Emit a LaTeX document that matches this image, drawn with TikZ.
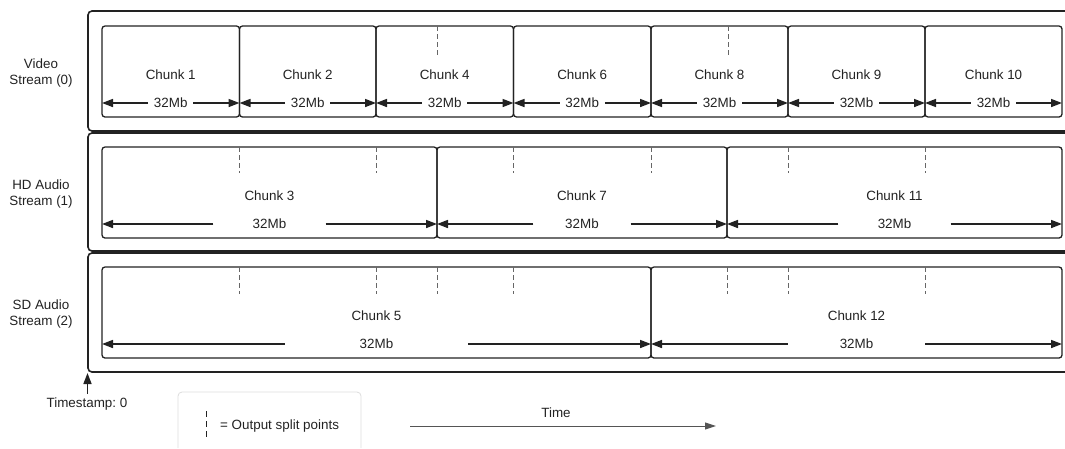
\documentclass[tikz,border=0pt]{standalone}
\usepackage{fontspec}
\setmainfont{Liberation Sans}
\usetikzlibrary{arrows.meta}
\frenchspacing
\definecolor{ink}{HTML}{222222}
\definecolor{splitgray}{HTML}{666666}
\definecolor{legendgray}{HTML}{DDDDDD}
\definecolor{timegray}{HTML}{555555}
\tikzset{
  txt/.style={text=ink, font=\fontsize{13.4}{16}\selectfont, inner sep=0pt, align=center},
  chunkbox/.style={draw=ink, line width=1.3pt, rounded corners=3pt, inner sep=0pt, outer sep=0pt},
  outerbox/.style={draw=ink, line width=1.6pt, rounded corners=4pt},
  dim/.style={draw=ink, line width=1.6pt, -{Triangle[length=11pt,width=8pt]}},
  split/.style={draw=splitgray, line width=0.9pt, dash pattern=on 5pt off 3pt},
}
\newcommand{\mkchunk}[6]{%
  \node[chunkbox, minimum width={#3-#2}, minimum height=91] (#1) at ({(#2+#3)/2},{#4+45.5}) {};
  \node[txt] (#1t) at ({(#2+#3)/2},{#4+49}) {#5};
  \node[txt, minimum width=#6] (#1m) at ({(#2+#3)/2},{#4+77}) {32Mb};
  \draw[dim] (#1m.west) -- (#1.west |- #1m.west);
  \draw[dim] (#1m.east) -- (#1.east |- #1m.east);
}
\begin{document}
\begin{tikzpicture}[x=1pt,y=-1pt]
\useasboundingbox (0,0) rectangle (1065,448);
% outer stream boxes
\draw[outerbox] (1065,11) -- (88,11) -- (88,131) -- (1065,131);
\draw[outerbox] (1065,133) -- (88,133) -- (88,251) -- (1065,251);
\draw[outerbox] (1065,253) -- (88,253) -- (88,372) -- (1065,372);
% stream labels
\node[txt] (lv) at (41,73) {Video\\Stream (0)};
\node[txt] (lh) at (41,194) {HD Audio\\Stream (1)};
\node[txt] (ls) at (41,314) {SD Audio\\Stream (2)};
% video chunks
\mkchunk{c1}{102}{239.5}{26}{Chunk 1}{45}
\mkchunk{c2}{239.5}{376}{26}{Chunk 2}{45}
\mkchunk{c4}{376}{513.5}{26}{Chunk 4}{45}
\mkchunk{c6}{513.5}{651}{26}{Chunk 6}{45}
\mkchunk{c8}{651}{788}{26}{Chunk 8}{45}
\mkchunk{c9}{788}{925}{26}{Chunk 9}{45}
\mkchunk{c10}{925}{1062}{26}{Chunk 10}{45}
% HD chunks
\mkchunk{c3}{102}{437}{147}{Chunk 3}{112}
\mkchunk{c7}{437}{727}{147}{Chunk 7}{97}
\mkchunk{c11}{727}{1062}{147}{Chunk 11}{112}
% SD chunks
\mkchunk{c5}{102}{651}{267}{Chunk 5}{183}
\mkchunk{c12}{651}{1062}{267}{Chunk 12}{137}
% split points
\foreach \x in {437,728} \draw[split] (\x,26) -- (\x,57);
\foreach \x in {239.5,376,513.5,651,788,925} \draw[split] (\x,147) -- (\x,173);
\foreach \x in {239.5,376,437,513.5,727,788,925} \draw[split] (\x,267) -- (\x,294);
% timestamp
\node[txt] (ts) at (87,404) {Timestamp: 0};
\coordinate (tstip) at (87.5,373);
\coordinate (tsfoot) at (87.5,394);
\draw[draw=ink, line width=1.6pt, -{Triangle[length=11pt,width=8pt]}] (tsfoot) -- (tstip);
% legend
\draw[draw=legendgray, line width=0.8pt, rounded corners=4pt] (178,448) -- (178,392) -- (361,392) -- (361,448);
\coordinate (lg1) at (206,411);
\coordinate (lg2) at (206,440);
\draw[draw=ink, line width=0.9pt, dash pattern=on 6pt off 4pt] (lg1) -- (lg2);
\node[txt, anchor=west] (lgt) at (220,426) {= Output split points};
% time arrow
\node[txt] (time) at (556,413) {Time};
\coordinate (t1) at (410,426);
\coordinate (t2) at (716,426);
\draw[draw=timegray, line width=1pt, -{Triangle[length=11pt,width=7pt]}, color=timegray] (t1) -- (t2);
\end{tikzpicture}
\end{document}
